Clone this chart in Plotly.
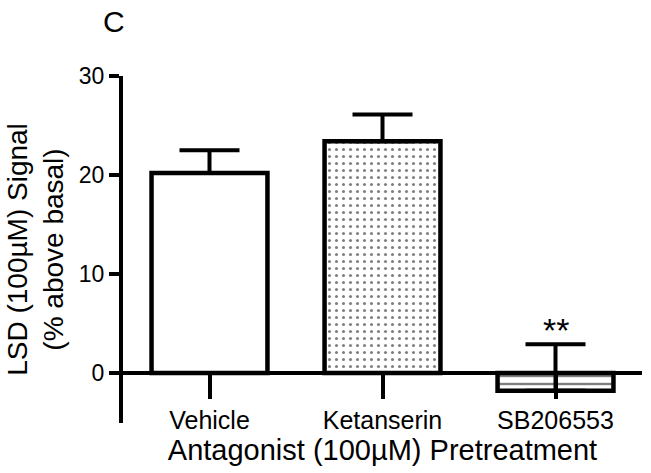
import plotly.graph_objects as go

categories = ["Vehicle", "Ketanserin", "SB206553"]
means = [20.2, 23.4, -1.8]
sem = [2.3, 2.7, 4.7]
patterns = ["", ".", "-"]
sig_labels = ["", "", "**"]
y_ticks = [0, 10, 20, 30]
y_min, y_max = -5.05, 30

FONT = "Arial, Liberation Sans, sans-serif"

fig = go.Figure()
fig.add_trace(go.Bar(
    x=categories, y=means, width=0.67,
    marker=dict(
        color="white",
        line=dict(color="black", width=4.5),
        pattern=dict(shape=patterns, fgcolor="black", bgcolor="white",
                     size=[8, 7, 8], solidity=[0.2, 0.15, 0.3]),
    ),
    error_y=dict(type="data", array=sem, arrayminus=[0] * len(sem), symmetric=False,
                 color="black", thickness=4, width=30),
    showlegend=False,
))

for c, m, s, lab in zip(categories, means, sem, sig_labels):
    if lab:
        fig.add_annotation(x=c, y=m + s, text=lab, showarrow=False, yanchor="bottom",
                           yshift=-7, font=dict(size=34, color="black", family=FONT))

fig.add_annotation(xref="paper", yref="paper", x=-0.017, y=1.158, text="C", showarrow=False,
                   xanchor="center", yanchor="middle", font=dict(size=30, color="black", family=FONT))

fig.update_layout(
    width=651, height=473,
    margin=dict(l=123, r=9, t=76, b=50),
    plot_bgcolor="white", paper_bgcolor="white",
    font=dict(family=FONT, color="black"),
    xaxis=dict(
        range=[-0.5, 2.5], anchor="free", position=-y_min / (y_max - y_min),
        showline=True, linewidth=3.5, linecolor="black",
        ticks="outside", ticklen=24, tickwidth=3.5, tickcolor="black",
        showgrid=False, zeroline=False,
        tickfont=dict(size=25, color="black"),
        title=dict(text="Antagonist (100µM) Pretreatment", font=dict(size=29, color="black"), standoff=2),
    ),
    yaxis=dict(
        range=[y_min, y_max], tickvals=y_ticks,
        showline=True, linewidth=4, linecolor="black",
        ticks="outside", ticklen=10, tickwidth=3.5, tickcolor="black",
        showgrid=False, zeroline=False,
        tickfont=dict(size=23, color="black"),
        title=dict(text="LSD (100µM) Signal<br>(% above basal)", font=dict(size=28, color="black"), standoff=8),
    ),
)

fig.write_html("out.html", config={"displayModeBar": False},
               post_script="document.body.style.margin='0';")
